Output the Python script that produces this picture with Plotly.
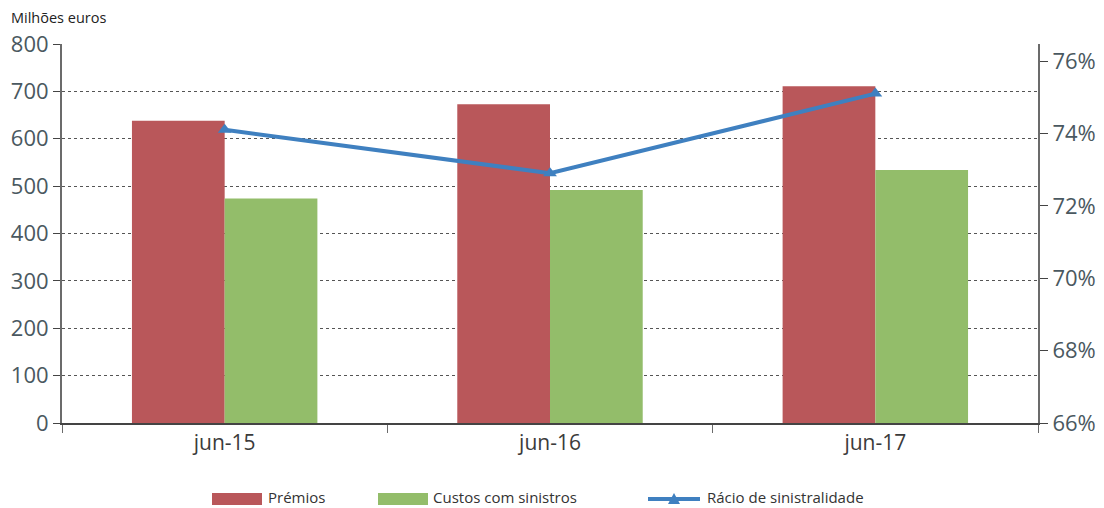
import plotly.graph_objects as go

categories = ["jun-15", "jun-16", "jun-17"]
premios = [638, 673, 711]
custos = [474, 492, 534]
racio = [74.1, 72.9, 75.1]

left_ticks = [0, 100, 200, 300, 400, 500, 600, 700, 800]
right_ticks = [66, 68, 70, 72, 74, 76]
right_labels = [f"{v}%" for v in right_ticks]

series_names = ["Prémios", "Custos com sinistros", "Rácio de sinistralidade"]
colors = ["#b9575a", "#93bd6a", "#3f80c0"]

font_family = "Open Sans, Noto Sans, DejaVu Sans, sans-serif"
tick_color = "#4a5860"
axis_color = "#6b6b6b"

W, H = 1104, 508
L, R, T, B = 62, 66, 44, 85
plot_w, plot_h = W - L - R, H - T - B


def px_x(px):
    return (px - L) / plot_w


def px_y(py):
    return (H - B - py) / plot_h


fig = go.Figure()
fig.add_trace(go.Bar(
    x=categories, y=premios, name=series_names[0],
    marker=dict(color=colors[0], line=dict(width=0)),
))
fig.add_trace(go.Bar(
    x=categories, y=custos, name=series_names[1],
    marker=dict(color=colors[1], line=dict(width=0)),
))
fig.add_trace(go.Scatter(
    x=categories, y=racio, name=series_names[2], yaxis="y2",
    mode="lines+markers",
    line=dict(color=colors[2], width=4),
    marker=dict(symbol="triangle-up", size=12, color=colors[2]),
))

# Legend drawn as shapes + text below the plot
shapes = []
annotations = []
legend_y = 499
text_y = 497
swatches = [(212, 262, 267), (378, 428, 432), (648, 700, 706)]
for i, (x0, x1, tx) in enumerate(swatches):
    if i < 2:
        shapes.append(dict(
            type="rect", xref="paper", yref="paper",
            x0=px_x(x0), x1=px_x(x1), y0=px_y(legend_y + 6), y1=px_y(legend_y - 6),
            fillcolor=colors[i], line=dict(width=0),
        ))
    else:
        shapes.append(dict(
            type="line", xref="paper", yref="paper",
            x0=px_x(x0), x1=px_x(x1), y0=px_y(legend_y), y1=px_y(legend_y),
            line=dict(color=colors[i], width=4),
        ))
        shapes.append(dict(
            type="path", xref="paper", yref="paper",
            path=(f"M {px_x((x0 + x1) / 2 - 6)} {px_y(legend_y + 5)} "
                  f"L {px_x((x0 + x1) / 2 + 6)} {px_y(legend_y + 5)} "
                  f"L {px_x((x0 + x1) / 2)} {px_y(legend_y - 6)} Z"),
            fillcolor=colors[i], line=dict(width=0),
        ))
    annotations.append(dict(
        text=series_names[i], xref="paper", yref="paper",
        x=px_x(tx), y=px_y(text_y), xanchor="left", yanchor="middle",
        showarrow=False, font=dict(size=15, color="#333333"), borderpad=0,
    ))

annotations.append(dict(
    text="Milhões euros", xref="paper", yref="paper",
    x=px_x(9), y=px_y(18), xanchor="left", yanchor="middle",
    showarrow=False, font=dict(size=14.5, color="#222222"),
))

fig.update_layout(
    width=W, height=H,
    margin=dict(l=L, r=R, t=T, b=B, autoexpand=False),
    paper_bgcolor="white", plot_bgcolor="white",
    font=dict(family=font_family, color=tick_color),
    barmode="group", bargap=0.43, bargroupgap=0,
    showlegend=False,
    xaxis=dict(
        type="category", showgrid=False,
        showline=True, linecolor="#444444", linewidth=2,
        ticks="outside", tickson="boundaries", ticklen=8, tickcolor=axis_color,
        tickfont=dict(size=21, color="#3b3b3b"),
        range=[-0.5, 2.5], automargin=False,
    ),
    yaxis=dict(
        range=[0, 800], tickvals=left_ticks,
        showgrid=True, gridcolor="#555555", griddash="dot", gridwidth=1,
        showline=True, linecolor=axis_color, linewidth=2,
        ticks="outside", ticklen=7, tickcolor="#444444",
        tickfont=dict(size=22, color=tick_color),
        zeroline=False, automargin=False,
    ),
    yaxis2=dict(
        overlaying="y", side="right",
        range=[66, 76.47], tickvals=right_ticks, ticktext=right_labels,
        showgrid=False,
        showline=True, linecolor=axis_color, linewidth=2,
        ticks="outside", ticklen=8, tickcolor="#444444",
        tickfont=dict(size=22, color=tick_color),
        zeroline=False, automargin=False,
    ),
    shapes=shapes,
    annotations=annotations,
)

fig.write_html("out.html")
